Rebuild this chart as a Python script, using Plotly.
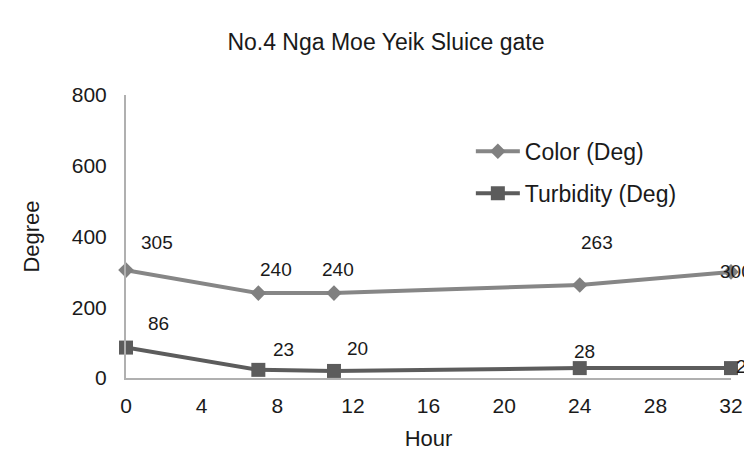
import plotly.graph_objects as go

hours = [0, 7, 11, 24, 32]
color_deg = [305, 240, 240, 263, 300]
turbidity_deg = [86, 23, 20, 28, 28]
x_ticks = [0, 4, 8, 12, 16, 20, 24, 28, 32]
y_ticks = [0, 200, 400, 600, 800]

# label offsets in pixels (xshift, yshift)
color_label_shift = [(31, 28), (18, 24), (4, 24), (17, 42), (5, 0)]
turb_label_shift = [(32, 24), (25, 20), (24, 22), (5, 17), (15, 2)]

FONT = "Liberation Sans, Arial, sans-serif"
fig = go.Figure()
fig.add_trace(go.Scatter(x=hours, y=color_deg, mode="lines+markers", name="Color (Deg)",
                         line=dict(color="#868686", width=4),
                         marker=dict(symbol="diamond", size=12, color="#808080"),
                         legendgroup="a", cliponaxis=False))
fig.add_trace(go.Scatter(x=hours, y=turbidity_deg, mode="lines+markers", name="Turbidity (Deg)",
                         line=dict(color="#5c5c5c", width=4),
                         marker=dict(symbol="square", size=14, color="#5c5c5c"),
                         legendgroup="b", cliponaxis=False))

for xs, ys, shifts in [(hours, color_deg, color_label_shift), (hours, turbidity_deg, turb_label_shift)]:
    for xv, yv, (dx, dy) in zip(xs, ys, shifts):
        fig.add_annotation(x=xv, y=yv, text=str(yv), showarrow=False,
                           xshift=dx, yshift=dy, font=dict(size=19, color="#1a1a1a", family=FONT))

fig.update_layout(
    width=744, height=453,
    margin=dict(l=118, r=21, t=87, b=83),
    paper_bgcolor="white", plot_bgcolor="white",
    font=dict(family=FONT, color="#1a1a1a"),
    title=dict(text="No.4 Nga Moe Yeik Sluice gate", x=0.508, xanchor="center", y=0.925,
               yanchor="middle", font=dict(size=23, color="#1a1a1a")),
    xaxis=dict(range=[0, 32], tickvals=x_ticks, showgrid=False, zeroline=False,
               showline=True, linecolor="#b0b0b0", linewidth=2, ticks="", automargin=False,
               tickfont=dict(size=21), ticklabelstandoff=8,
               title=dict(text="Hour", font=dict(size=22), standoff=14)),
    yaxis=dict(range=[0, 800], tickvals=y_ticks, showgrid=False, zeroline=False,
               showline=True, linecolor="#b0b0b0", linewidth=2, ticks="", automargin=False,
               tickfont=dict(size=21), ticklabelstandoff=13,
               title=dict(text="Degree", font=dict(size=22), standoff=26)),
    legend=dict(x=0.570, y=0.877, xanchor="left", yanchor="top", font=dict(size=23),
                tracegroupgap=9, bgcolor="rgba(0,0,0,0)", itemwidth=44),
    showlegend=True,
)
fig.write_html("out.html")
